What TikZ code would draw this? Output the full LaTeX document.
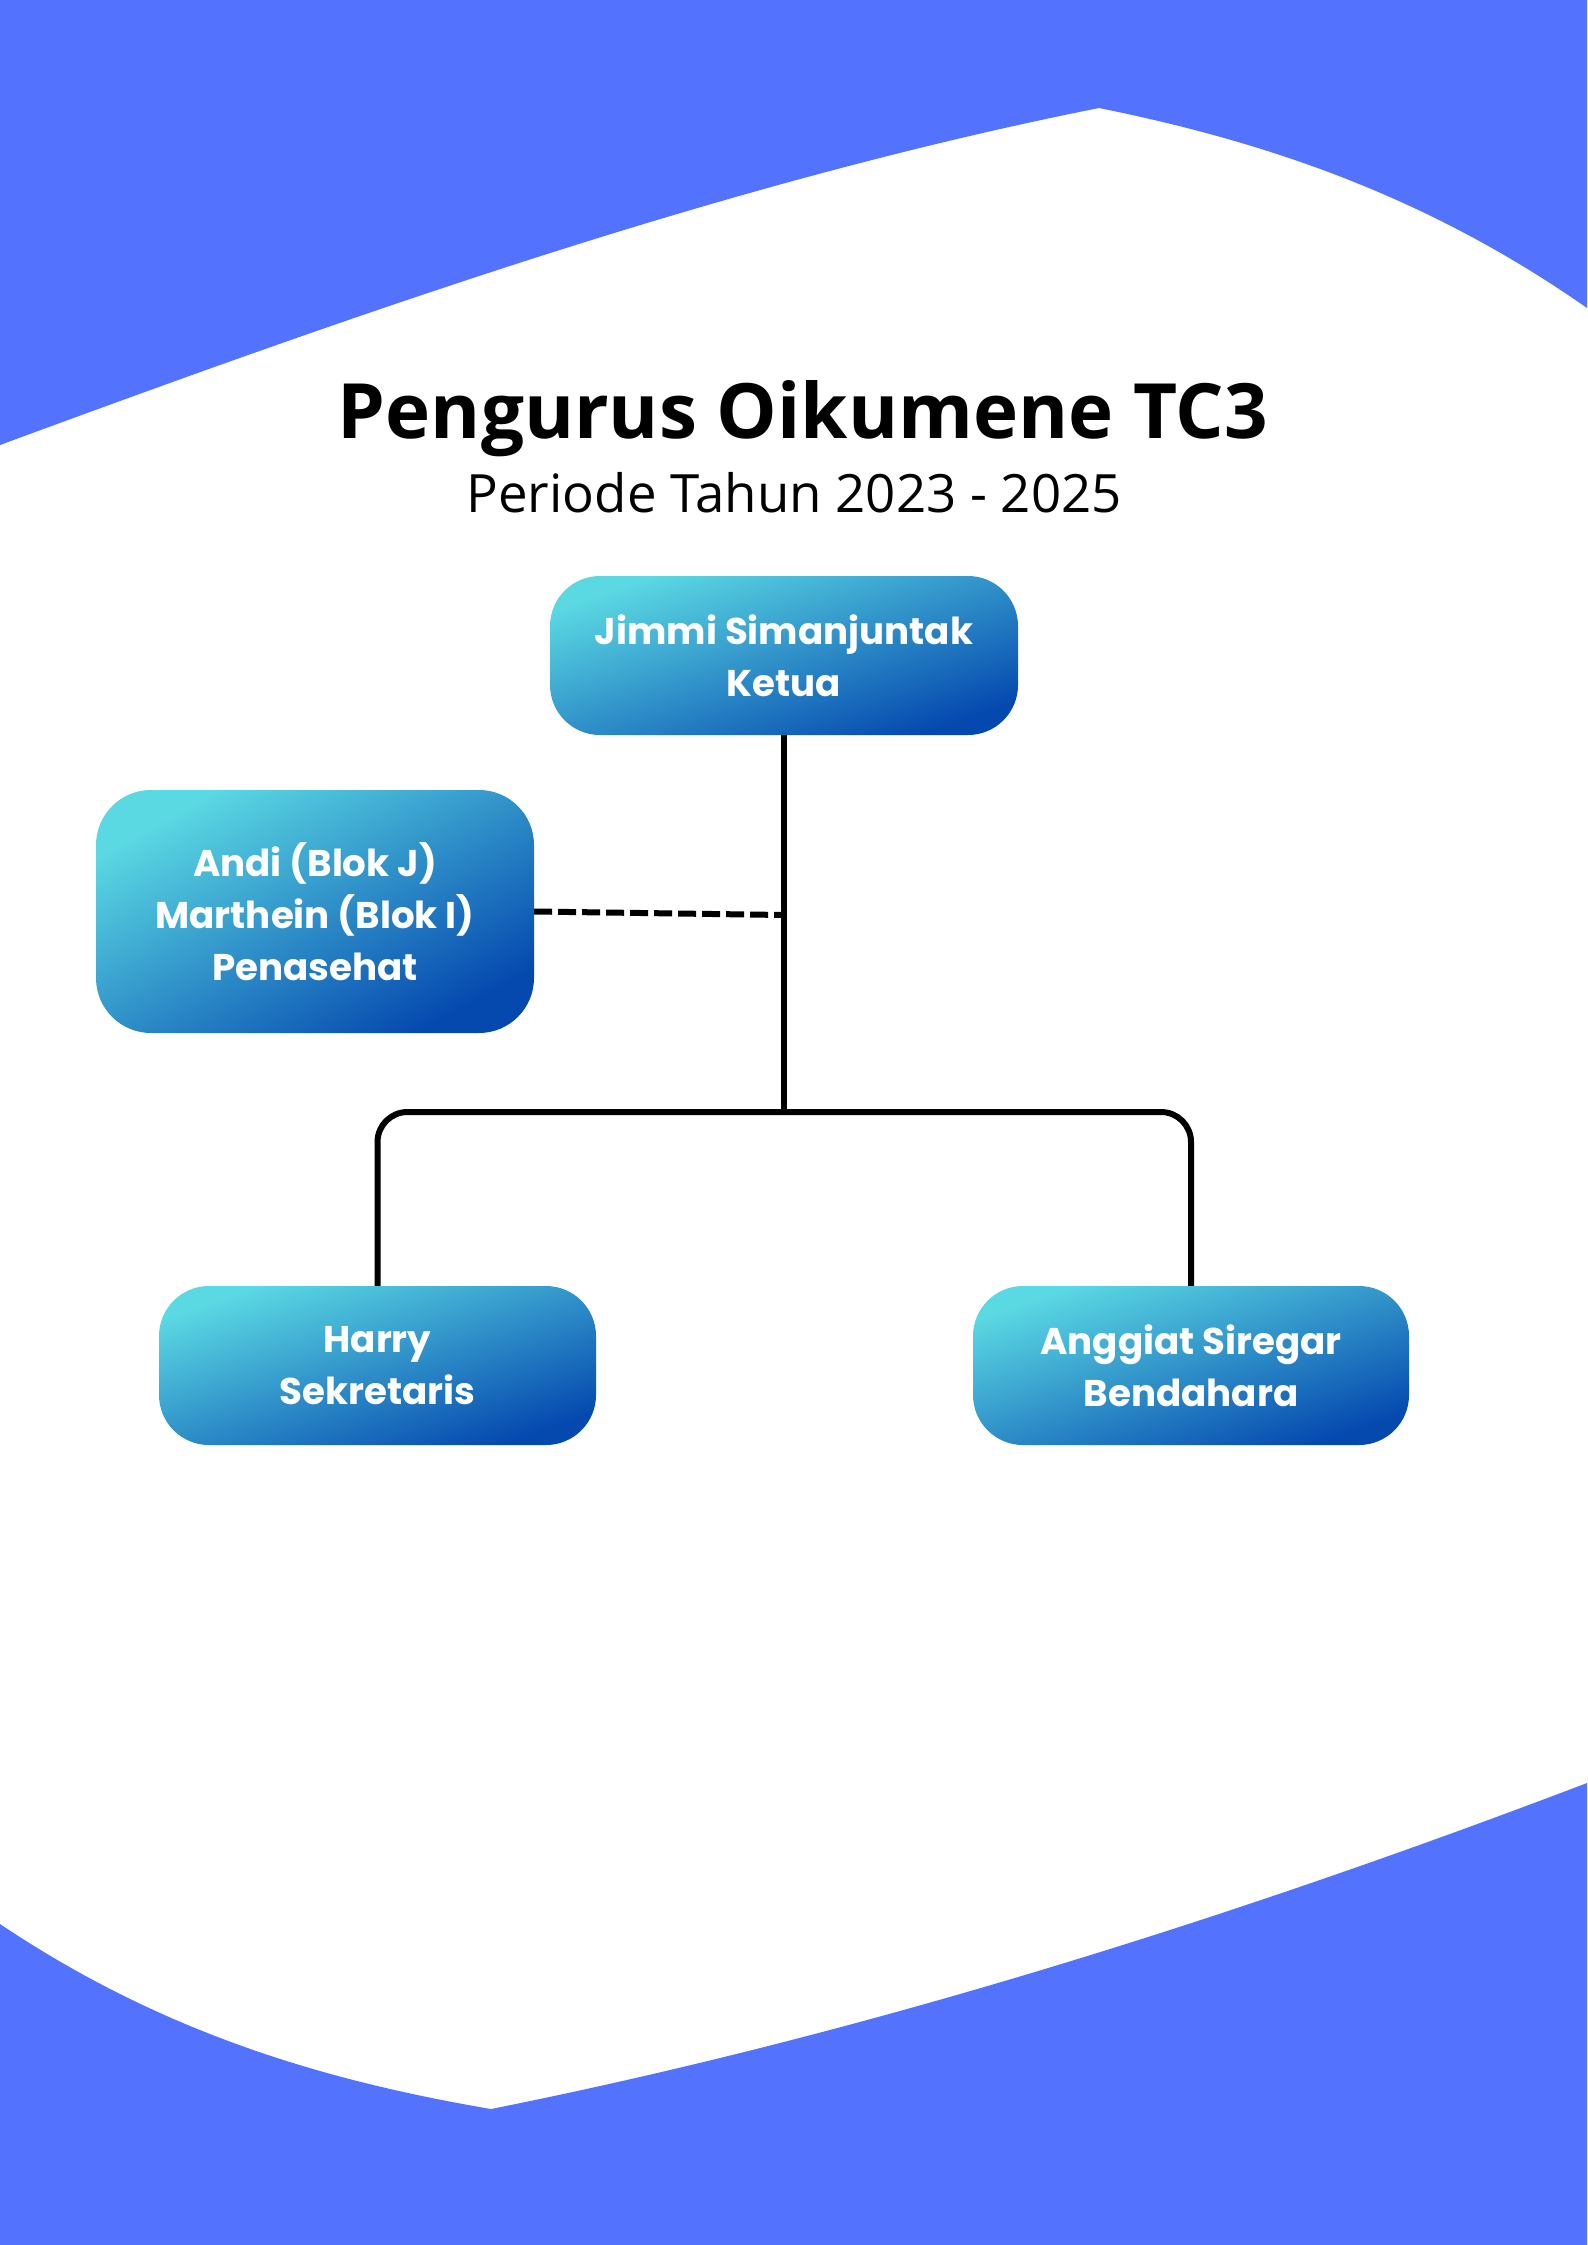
\documentclass[tikz,border=0pt]{standalone}
\usepackage{fontspec}
\newfontfamily\opensans{Open Sans}
\newfontfamily\poppins{Poppins}
\definecolor{bgblue}{HTML}{5373FF}
\definecolor{boxlight}{HTML}{5BD9E3}
\definecolor{boxdark}{HTML}{0549AF}
\tikzset{
  orgbox/.style={rounded corners=50pt, top color=boxlight, bottom color=boxdark, shading angle=19,
    text=white, align=center, inner sep=0pt, font=\poppins\bfseries\fontsize{37.2}{52}\selectfont},
  link/.style={line width=6pt, black},
  dashlink/.style={line width=6pt, black, dash pattern=on 18pt off 6pt},
}
\begin{document}
\begin{tikzpicture}[x=1pt,y=-1pt]
\useasboundingbox (0,0) rectangle (1587,2245);
\fill[white] (0,0) rectangle (1587,2245);
% top wave
\fill[bgblue] (0,0) -- (1587,0) -- (1587,308)
  .. controls (1424,194) and (1262,141) .. (1099,108)
  .. controls (733,181) and (366,310) .. (0,445) -- cycle;
% bottom wave
\fill[bgblue] (0,2245) -- (0,1924)
  .. controls (164,2034) and (327,2081) .. (491,2109)
  .. controls (856,2036) and (1222,1922) .. (1587,1783) -- (1587,2245) -- cycle;
% titles
\node[anchor=base, font=\opensans\bfseries\fontsize{76.3}{90}\selectfont] (title) at (803,438) {Pengurus Oikumene TC3};
\node[anchor=base, font=\opensans\fontsize{52.8}{60}\selectfont] (subtitle) at (794,512) {Periode Tahun 2023 - 2025};
% boxes
\node[orgbox, minimum width=468pt, minimum height=159pt] (ketua) at (784,655.5) {Jimmi Simanjuntak\\Ketua};
\node[orgbox, rounded corners=55pt, shading angle=29, minimum width=438pt, minimum height=243pt] (pen) at (315,911.5) {Andi (Blok J)\\Marthein (Blok I)\\Penasehat};
\node[orgbox, minimum width=437pt, minimum height=159pt] (sek) at (377.5,1365.5) {Harry\\Sekretaris};
\node[orgbox, minimum width=436pt, minimum height=159pt] (ben) at (1191,1365.5) {Anggiat Siregar\\Bendahara};
% connectors
\coordinate (bus) at (784,1112);
\coordinate (pj) at (784,915);
\draw[link] (ketua.south) -- (bus);
\draw[link, rounded corners=30pt] (sek.north) |- (bus) -| (ben.north);
\draw[dashlink] (pen.east) -- (pj);
\end{tikzpicture}
\end{document}
